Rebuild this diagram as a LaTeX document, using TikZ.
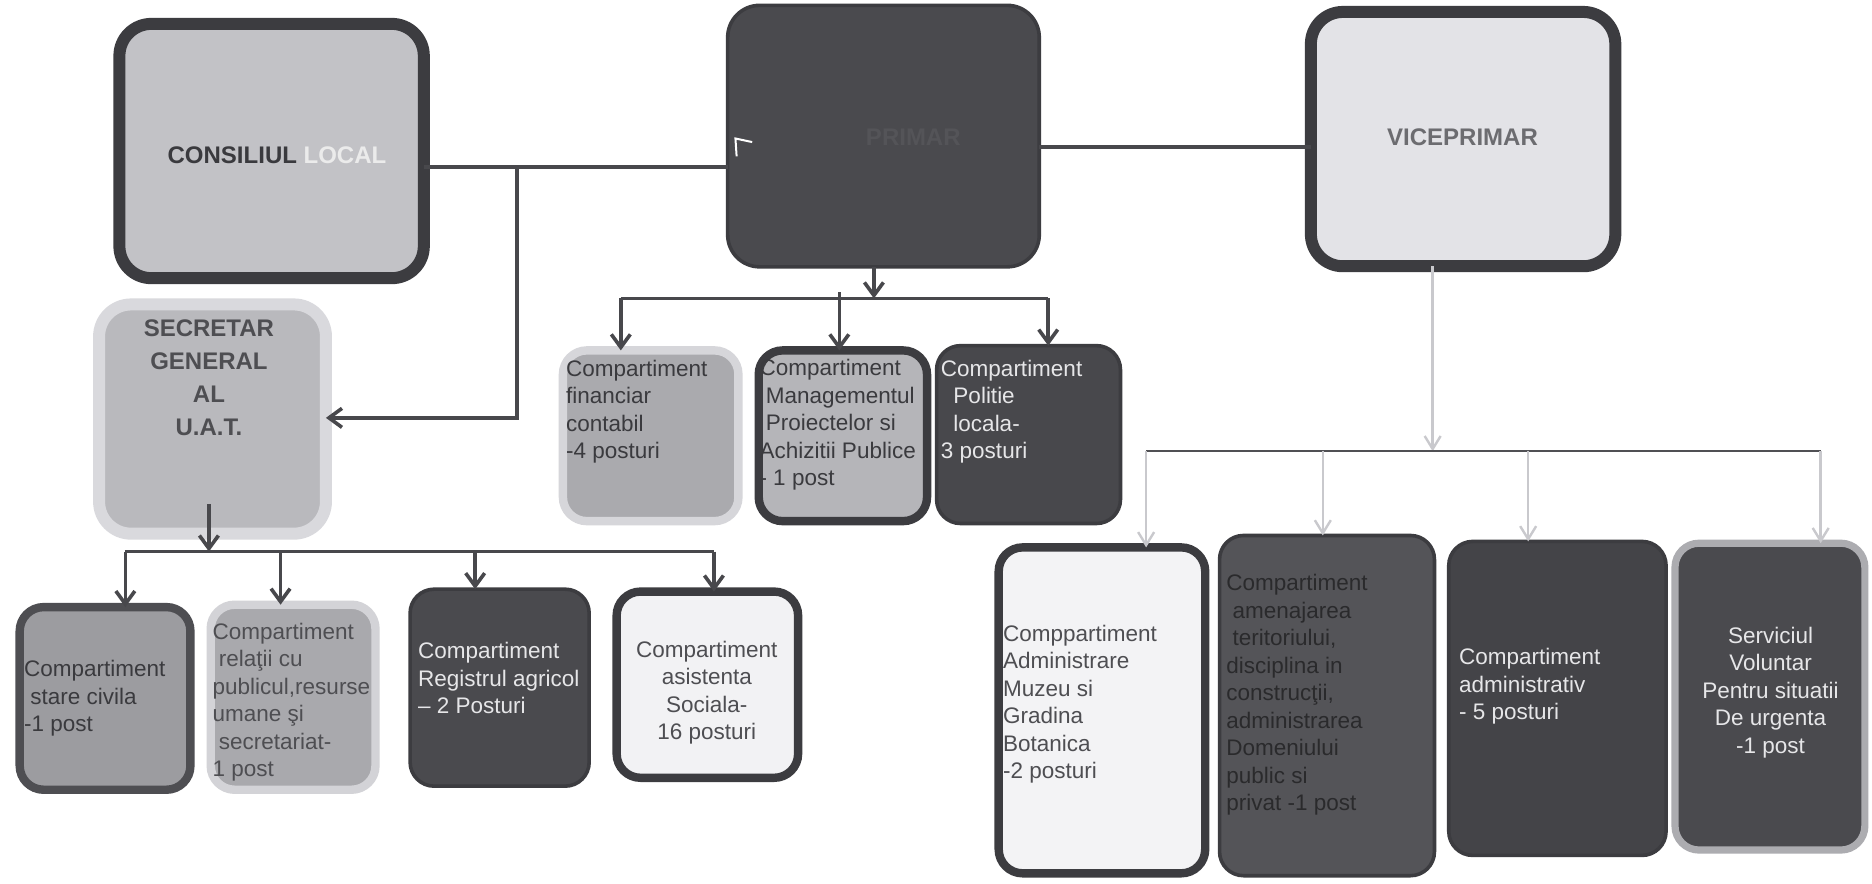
\documentclass[tikz,border=0pt]{standalone}
\usepackage{fontspec}
\setmainfont{Liberation Sans}
\usetikzlibrary{arrows.meta}
\definecolor{cborder}{HTML}{3C3C40}
\definecolor{clfill}{HTML}{C2C2C6}
\definecolor{prfill}{HTML}{4A4A4E}
\definecolor{prtext}{HTML}{545458}
\definecolor{vpfill}{HTML}{E3E3E7}
\definecolor{vptext}{HTML}{6C6C70}
\definecolor{sgfill}{HTML}{B9B9BD}
\definecolor{sgborder}{HTML}{D9D9DD}
\definecolor{stfill}{HTML}{9C9CA0}
\definecolor{stborder}{HTML}{4E4E52}
\definecolor{rlfill}{HTML}{A9A9AD}
\definecolor{rlborder}{HTML}{D3D3D7}
\definecolor{rgfill}{HTML}{4A4A4E}
\definecolor{asfill}{HTML}{F2F2F4}
\definecolor{fnfill}{HTML}{AAAAAE}
\definecolor{fnborder}{HTML}{D6D6DA}
\definecolor{mgfill}{HTML}{B5B5B9}
\definecolor{pofill}{HTML}{48484C}
\definecolor{mzfill}{HTML}{F3F3F5}
\definecolor{amfill}{HTML}{545458}
\definecolor{adfill}{HTML}{444448}
\definecolor{svfill}{HTML}{4A4A4E}
\definecolor{svborder}{HTML}{ACACB0}
\definecolor{cline}{HTML}{48484C}
\definecolor{lline}{HTML}{C9C9CD}
\definecolor{hline}{HTML}{505054}
\definecolor{darktext}{HTML}{3A3A3E}
\definecolor{midtext}{HTML}{4E4E52}
\definecolor{lighttext}{HTML}{E6E6E8}
\definecolor{amtext}{HTML}{2A2A2C}
\newcommand\mkbox[6]{%
  \pgfmathsetmacro\mybw{(#5-#3)*1.19388}%
  \pgfmathsetmacro\mybh{(#6-#4)*1.19388}%
  \node[#2,minimum width=\mybw pt,minimum height=\mybh pt] (#1) at ({(#3+#5)/2},{(#4+#6)/2}) {};}
\tikzset{
  boxbase/.style={shape=rectangle, inner sep=0pt, outer sep=0pt, rounded corners=24pt},
  bigbox/.style={boxbase, rounded corners=32pt},
  txt/.style={inner sep=0pt, align=left, font=\fontsize{22.5}{27.5}\selectfont},
  ctxt/.style={txt, align=center},
  head/.style={inner sep=0pt, align=center, font=\bfseries\fontsize{24}{33}\selectfont},
  conn/.style={draw=cline, line width=3.6pt},
  darrow/.style={conn, -{Straight Barb[length=13pt,width=19pt]}},
  lconn/.style={draw=lline, line width=2.4pt},
  larrow/.style={lconn, -{Straight Barb[length=13pt,width=16pt]}},
}
\begin{document}
\begin{tikzpicture}[x=1.19388pt,y=-1.19388pt]
\useasboundingbox[fill=white] (0,0) rectangle (1568,740.4);

% top row
\mkbox{cl}{bigbox, draw=cborder, line width=12pt, fill=clfill}{100}{20}{355}{233}
\mkbox{pr}{bigbox, draw=cborder, line width=3.6pt, fill=prfill}{609.5}{4.5}{870.5}{223.5}
\mkbox{vp}{bigbox, draw=cborder, line width=12pt, fill=vpfill}{1098}{10}{1353}{223}
\mkbox{sg}{bigbox, draw=sgborder, line width=12pt, fill=sgfill}{83}{255}{273}{447}

% middle row
\mkbox{fn}{boxbase, draw=fnborder, line width=8.4pt, fill=fnfill}{471.5}{293.5}{618.5}{436.5}
\mkbox{mg}{boxbase, draw=cborder, line width=8.4pt, fill=mgfill}{635.5}{293.5}{776.5}{436.5}
\mkbox{po}{boxbase, draw=cborder, line width=3.6pt, fill=pofill}{784.5}{289.5}{938.5}{438.5}

% bottom left row
\mkbox{st}{boxbase, draw=stborder, line width=8.4pt, fill=stfill}{16.5}{508.5}{159.5}{661.5}
\mkbox{rl}{boxbase, draw=rlborder, line width=8.4pt, fill=rlfill}{176.5}{506.5}{314.5}{661.5}
\mkbox{rg}{boxbase, draw=cborder, line width=3.6pt, fill=rgfill}{343.5}{493.5}{493.5}{658.5}
\mkbox{as}{boxbase, draw=cborder, line width=8.4pt, fill=asfill}{516.5}{495.5}{668.5}{651.5}

% bottom right row
\mkbox{mz}{boxbase, draw=cborder, line width=8.4pt, fill=mzfill}{836.5}{458.5}{1009.5}{731.5}
\mkbox{am}{boxbase, draw=cborder, line width=3.6pt, fill=amfill}{1021.5}{448.5}{1201.5}{733.5}
\mkbox{ad}{boxbase, draw=cborder, line width=3.6pt, fill=adfill}{1213.5}{453.5}{1395.5}{716.5}
\mkbox{sv}{boxbase, draw=svborder, line width=7.2pt, fill=svfill}{1403}{455}{1562}{712}

% headings
\node[head, text=darktext] (clt) at (232,130) {CONSILIUL \textcolor{white!92!black}{LOCAL}};
\node[head, text=prtext] (prt) at (765,115) {PRIMAR};
\node[head, text=vptext] (vpt) at (1225,115) {VICEPRIMAR};
\node[head, text=midtext] (sgt) at (175,316) {SECRETAR\\GENERAL\\AL\\U.A.T.};

% white mark inside PRIMAR
\draw[white, line width=2pt] (630,119) -- (616,116) -- (617,131);

% texts of the compartments
\node[txt, text=darktext, anchor=west] (stt) at (20,585) {Compartiment\\\ stare civila\\-1 post};
\node[txt, text=midtext, anchor=west] (rlt) at (178,588) {Compartiment\\\ rela\c{t}ii cu\\publicul,resurse\\umane \c{s}i\\\ secretariat-\\1 post};
\node[txt, text=lighttext, anchor=west] (rgt) at (350,568) {Compartiment\\Registrul agricol\\– 2 Posturi};
\node[ctxt, text=midtext] (ast) at (592,580) {Compartiment\\asistenta\\Sociala-\\16 posturi};

\node[txt, text=darktext, anchor=west] (fnt) at (474,345) {Compartiment\\financiar\\contabil\\-4 posturi};
\node[txt, text=darktext, anchor=west] (mgt) at (636,356) {Compartiment\\\ Managementul\\\ Proiectelor si\\Achizitii Publice\\- 1 post};
\node[txt, text=lighttext, anchor=west] (pot) at (788,345) {Compartiment\\\ \ Politie\\\ \ locala-\\3 posturi};

\node[txt, text=midtext, anchor=west] (mzt) at (840,590) {Comppartiment\\Administrare\\Muzeu si\\Gradina\\Botanica\\-2 posturi};
\node[txt, text=amtext, anchor=west] (amt) at (1027,582) {Compartiment\\\ amenajarea\\\ teritoriului,\\disciplina in\\construc\c{t}ii,\\administrarea\\Domeniului\\public si\\privat -1 post};
\node[txt, text=lighttext, anchor=west] (adt) at (1222,575) {Compartiment\\administrativ\\- 5 posturi};
\node[ctxt, text=lighttext] (svt) at (1483,580) {Serviciul\\Voluntar\\Pentru situatii\\De urgenta\\-1 post};

% connectors: top row
\coordinate (j1) at (433,140);
\coordinate (j2) at (433,350);
\coordinate (j3) at (990,123);
\draw[conn] (cl.east |- j1) -- (pr.west |- j1);
\draw[darrow] (j1) -- (j2) -- (j2 -| sg.east);
\draw[conn] (pr.east |- j3) -- (vp.west |- j3);

% PRIMAR branch
\coordinate (pb) at (732,250);
\coordinate (pbl) at (520,250);
\coordinate (pbm) at (703,245);
\coordinate (pbr) at (878,250);
\draw[darrow] (pr.south -| pb) -- (pb);
\draw[conn] (pbl) -- (pbr);
\draw[darrow] (pbl) -- (pbl |- fn.north);
\draw[darrow] (pbm) -- (pbm |- mg.north);
\draw[darrow] (pbr) -- (pbr |- po.north);

% SECRETAR branch
\coordinate (sbs) at (175,422);
\coordinate (sb) at (175,462);
\coordinate (sbl) at (105,462);
\coordinate (sb2) at (235,462);
\coordinate (sb3) at (398,462);
\coordinate (sbr) at (598,462);
\draw[darrow] (sbs) -- (sb);
\draw[conn] (sbl) -- (sbr);
\draw[darrow] (sbl) -- (sbl |- st.north);
\draw[darrow] (sb2) -- (sb2 |- rl.north);
\draw[darrow] (sb3) -- (sb3 |- rg.north);
\draw[darrow] (sbr) -- (sbr |- as.north);

% VICEPRIMAR branch
\coordinate (vb) at (1200,378);
\coordinate (vbl) at (960,378);
\coordinate (vb2) at (1108,378);
\coordinate (vb3) at (1280,378);
\coordinate (vbr) at (1525,378);
\draw[larrow] (vp.south -| vb) -- (vb);
\draw[draw=hline, line width=2.4pt] (vbl) -- (vbr);
\draw[larrow] (vbl) -- (vbl |- mz.north);
\draw[larrow] (vb2) -- (vb2 |- am.north);
\draw[larrow] (vb3) -- (vb3 |- ad.north);
\draw[larrow] (vbr) -- (vbr |- sv.north);
\end{tikzpicture}
\end{document}
